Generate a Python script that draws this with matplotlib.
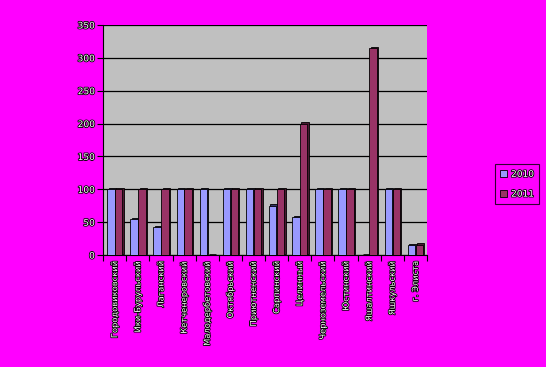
import numpy as np
import matplotlib.pyplot as plt
import matplotlib.patheffects as pe


districts = ["Городовиковский", "Ики-Бурульский", "Лаганский", "Кетченеровский",
             "Малодербетовский", "Октябрьский", "Приютненский", "Сарпинский",
             "Целинный", "Черноземельский", "Юстинский", "Яшалтинский",
             "Яшкульский", "г. Элиста"]
values_2010 = [100, 55, 42, 100, 100, 100, 100, 75, 58, 100, 100, 0, 100, 15]
values_2011 = [100, 100, 100, 100, 0, 100, 100, 100, 200, 100, 100, 315, 100, 16]
y_ticks = [0, 50, 100, 150, 200, 250, 300, 350]

MAGENTA = "#ff00ff"
outline = [pe.withStroke(linewidth=1.2, foreground="black")]


def draw_bars(ax, x, values, color, shade):
    # thin dark "depth" behind each bar to mimic the old 3D look
    ax.bar(x + 0.06, values, width=0.32, bottom=2, color=shade,
           edgecolor="black", linewidth=0.6, zorder=2)
    ax.bar(x, values, width=0.32, color=color,
           edgecolor="black", linewidth=0.6, zorder=3)


def main():
    fig = plt.figure(figsize=(5.46, 3.67), dpi=100, facecolor=MAGENTA)
    ax = fig.add_axes([0.189, 0.305, 0.593, 0.627])
    ax.set_facecolor("#c0c0c0")

    x = np.arange(len(districts))
    draw_bars(ax, x - 0.17, values_2010, "#9999ff", "#333366")
    draw_bars(ax, x + 0.17, values_2011, "#993366", "#4a1830")

    ax.set_xlim(-0.5, len(districts) - 0.5)
    ax.set_ylim(0, 350)
    ax.set_yticks(y_ticks)
    ax.set_yticklabels([str(v) for v in y_ticks], color="white", fontsize=6.5,
                       path_effects=outline)
    ax.yaxis.grid(True, color="black", linewidth=0.9, zorder=1)
    ax.set_axisbelow(True)

    ax.set_xticks(np.arange(len(districts) + 1) - 0.5, minor=False)
    ax.set_xticklabels([])
    ax.set_xticks(x, minor=True)
    ax.set_xticklabels(districts, minor=True, rotation=90, color="white",
                       fontsize=6, path_effects=outline)
    ax.tick_params(axis="x", which="minor", length=0, pad=4)
    ax.tick_params(axis="x", which="major", length=4, direction="out")
    ax.tick_params(axis="y", length=4, direction="out", pad=2)

    for side in ("top", "right"):
        ax.spines[side].set_visible(False)
    ax.spines["left"].set_color("black")
    ax.spines["bottom"].set_color("black")

    handles = [plt.Rectangle((0, 0), 1, 1, facecolor="#9999ff", edgecolor="black", linewidth=0.6),
               plt.Rectangle((0, 0), 1, 1, facecolor="#993366", edgecolor="black", linewidth=0.6)]
    leg = fig.legend(handles, ["2010", "2011"], loc="center",
                     bbox_to_anchor=(0.947, 0.498), fontsize=6.5,
                     frameon=True, fancybox=False, facecolor=MAGENTA,
                     edgecolor="black", handlelength=0.8, handleheight=0.8,
                     handletextpad=0.4, labelspacing=1.2, borderpad=0.6)
    leg.get_frame().set_linewidth(0.8)
    for t in leg.get_texts():
        t.set_color("white")
        t.set_path_effects(outline)

    fig.savefig("out.png", dpi=100, facecolor=MAGENTA)


if __name__ == "__main__":
    main()
